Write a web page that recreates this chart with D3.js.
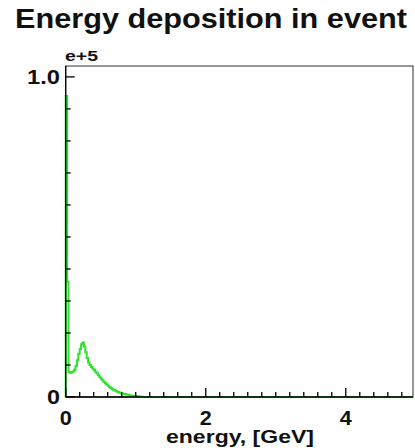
<!DOCTYPE html>
<html>
<head>
<meta charset="utf-8">
<script src="https://cdn.jsdelivr.net/npm/d3@7"></script>
<style>
  body { margin: 0; background: #fff; }
  svg { display: block; }
  text { font-family: "Liberation Sans", Arial, sans-serif; font-weight: bold; fill: #111; }
</style>
</head>
<body>
<div id="corpo"></div>
<script>
// histogram: bin width 0.02 GeV, content in units of 1e5, bins from 0 GeV
var binWidth = 0.02;
var counts = [
  0.94, 0.36, 0.078, 0.076, 0.077, 0.080, 0.085, 0.097, 0.115, 0.135,
  0.150, 0.165, 0.170, 0.158, 0.140, 0.122, 0.108, 0.100, 0.094, 0.089,
  0.084, 0.079, 0.074, 0.068, 0.062, 0.057, 0.052, 0.047, 0.043, 0.039,
  0.035, 0.031, 0.028, 0.025, 0.022, 0.020, 0.018, 0.016, 0.014, 0.012,
  0.011, 0.010, 0.009, 0.008, 0.007, 0.006, 0.005, 0.004, 0.004, 0.003,
  0.003, 0.002, 0.002, 0.001, 0.001, 0
];
var xLabels = [0, 2, 4];
var yLabels = [{v: 0, t: "0"}, {v: 1.0, t: "1.0"}];
var title = "Energy deposition in event";
var xTitle = "energy, [GeV]";
var yExp = "e+5";

var width = 415, height = 448;
var plot = {left: 65.7, right: 413, top: 66, bottom: 397};

var svg = d3.select("#corpo").append("svg")
    .attr("width", width)
    .attr("height", height);

var x = d3.scaleLinear().domain([0, 4.96]).range([plot.left, plot.right]);
var y = d3.scaleLinear().domain([0, 1.034]).range([plot.bottom, plot.top]);

// text helper, len = width the text takes in the picture
function label(txt, cx, base, size, len, anchor) {
    var x0 = anchor == "end" ? cx - len : (anchor == "middle" ? cx - len / 2 : cx);
    svg.append("text")
        .attr("x", x0)
        .attr("y", base)
        .style("font-size", size + "px")
        .attr("textLength", len)
        .attr("lengthAdjust", "spacingAndGlyphs")
        .text(txt);
}

// frame
svg.append("rect")
    .attr("x", plot.left)
    .attr("y", plot.top)
    .attr("width", plot.right - plot.left)
    .attr("height", plot.bottom - plot.top)
    .style("fill", "none")
    .style("stroke", "#333")
    .style("stroke-width", 1);

// histogram
var pts = counts.map(function(c, i) { return [i * binWidth, c]; });
pts.push([counts.length * binWidth, 0]);
pts.push([4.96, 0]);
var hline = d3.line()
    .x(function(d) { return x(d[0]); })
    .y(function(d) { return y(d[1]); })
    .curve(d3.curveStepAfter);

svg.append("path")
    .datum([[0, 0]].concat(pts))
    .attr("d", hline)
    .style("fill", "none")
    .style("stroke", "#2ee02e")
    .style("stroke-width", 2);

// axes
var axisG = svg.append("g").style("stroke", "#000").style("stroke-width", 1.3);
axisG.append("line")
    .attr("x1", plot.left).attr("x2", plot.right)
    .attr("y1", plot.bottom).attr("y2", plot.bottom);
axisG.append("line")
    .attr("x1", plot.left).attr("x2", plot.left)
    .attr("y1", plot.bottom).attr("y2", plot.top);

// x ticks (inward)
d3.range(0, 4.96, 0.2).forEach(function(v) {
    var major = xLabels.some(function(l) { return Math.abs(l - v) < 1e-6; });
    axisG.append("line")
        .attr("x1", x(v)).attr("x2", x(v))
        .attr("y1", plot.bottom).attr("y2", plot.bottom - (major ? 9 : 5));
});
// y ticks (inward)
d3.range(0, 1.03, 0.1).forEach(function(v) {
    var major = yLabels.some(function(l) { return Math.abs(l.v - v) < 1e-6; });
    axisG.append("line")
        .attr("x1", plot.left).attr("x2", plot.left + (major ? 9 : 5))
        .attr("y1", y(v)).attr("y2", y(v));
});

// labels
label(title, 15, 28, 27, 392, "start");
label(yExp, 65, 61, 15, 33, "start");
label("1.0", 60, 84, 21, 33, "end");
label("0", 60, 404, 21, 13, "end");
xLabels.forEach(function(v) {
    label(String(v), x(v), 425, 20, 12, "middle");
});
label(xTitle, 314, 443, 18, 148, "end");
</script>
</body>
</html>
